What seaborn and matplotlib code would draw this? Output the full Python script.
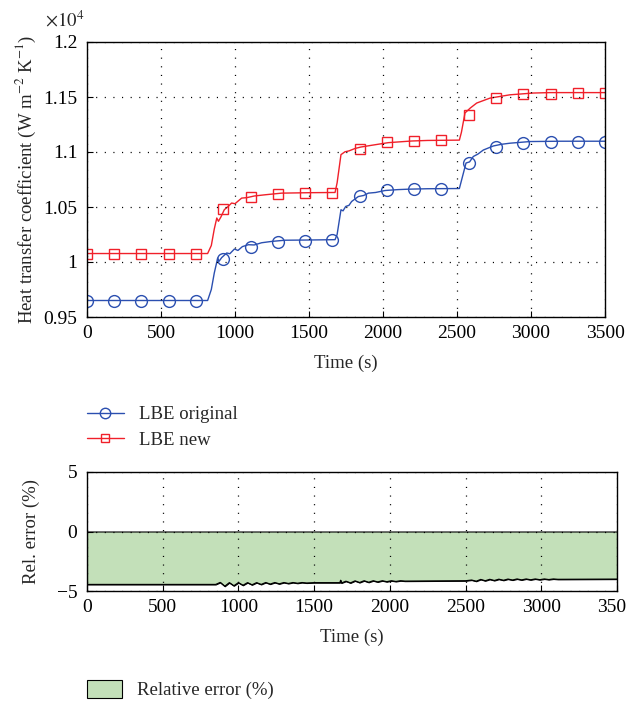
import numpy as np
import pandas as pd
import matplotlib
matplotlib.use("Agg")
import matplotlib.pyplot as plt
import seaborn as sns
from matplotlib.lines import Line2D
from matplotlib.patches import Patch
from matplotlib.ticker import FuncFormatter

# ---------------- data ----------------
# LBE original (blue) line, time (s) and heat transfer coefficient (W m^-2 K^-1)
t_orig = [0, 815, 840, 860, 883, 892, 910, 944, 965, 996, 1020, 1050, 1090, 1130,
          1180, 1247, 1337, 1500, 1676, 1690, 1716, 1730, 1748, 1770, 1788, 1833,
          1870, 1901, 1950, 2014, 2100, 2171, 2300, 2516, 2530, 2561, 2585, 2610,
          2640, 2678, 2746, 2800, 2858, 2993, 3200, 3500]
h_orig = [9650, 9650, 9750, 9900, 10036, 10006, 10040, 10082, 10075, 10118, 10105,
          10140, 10157, 10155, 10175, 10187, 10198, 10200, 10203, 10250, 10475,
          10465, 10505, 10515, 10550, 10595, 10605, 10626, 10632, 10650, 10658,
          10662, 10666, 10668, 10740, 10900, 10910, 10959, 10980, 11018, 11055,
          11070, 11080, 11095, 11098, 11098]

# LBE new (red) line
t_new = [0, 815, 840, 860, 877, 888, 905, 928, 950, 977, 1000, 1045, 1080, 1130,
         1203, 1315, 1500, 1676, 1690, 1716, 1743, 1770, 1811, 1850, 1923, 2036,
         2194, 2300, 2516, 2530, 2554, 2590, 2633, 2723, 2858, 3015, 3128, 3500]
h_new = [10077, 10077, 10150, 10300, 10400, 10370, 10410, 10476, 10500, 10536,
         10530, 10581, 10585, 10600, 10611, 10626, 10630, 10632, 10720, 10976,
         11002, 11010, 11032, 11045, 11061, 11085, 11100, 11105, 11108, 11180,
         11355, 11400, 11445, 11490, 11520, 11536, 11540, 11540]

# marker positions
t_mark = [0, 184, 368, 553, 737, 921, 1105, 1289, 1474, 1658, 1842, 2026, 2211,
          2395, 2579, 2763, 2947, 3132, 3316, 3500]
h_orig_mark = [9650, 9650, 9650, 9650, 9650, 10025, 10139, 10185, 10194, 10200,
               10600, 10655, 10667, 10667, 10897, 11048, 11085, 11090, 11090, 11090]
h_new_mark = [10075, 10075, 10075, 10075, 10075, 10479, 10588, 10618, 10624, 10630,
              11030, 11088, 11103, 11106, 11339, 11490, 11524, 11530, 11532, 11532]

# relative error (%)
t_err = [0, 850, 880, 910, 940, 970, 1000, 1030, 1060, 1090, 1120, 1150, 1180, 1210,
         1240, 1270, 1300, 1330, 1360, 1390, 1420, 1450, 1500, 1670, 1675, 1680,
         1710, 1740, 1770, 1800, 1830, 1860, 1890, 1920, 1950, 1980, 2010, 2040,
         2070, 2100, 2500, 2540, 2570, 2600, 2630, 2660, 2690, 2720, 2750, 2780,
         2810, 2840, 2870, 2900, 2930, 2960, 2990, 3020, 3050, 3080, 3110, 3500]
err = [-4.45, -4.45, -4.28, -4.60, -4.30, -4.56, -4.30, -4.52, -4.30, -4.48, -4.30,
       -4.45, -4.29, -4.42, -4.29, -4.40, -4.29, -4.37, -4.29, -4.35, -4.29, -4.33,
       -4.30, -4.30, -4.10, -4.33, -4.18, -4.32, -4.15, -4.29, -4.14, -4.27, -4.14,
       -4.24, -4.14, -4.22, -4.14, -4.20, -4.14, -4.17, -4.14, -4.08, -4.18, -4.03,
       -4.14, -4.02, -4.12, -4.01, -4.10, -4.00, -4.08, -3.99, -4.07, -3.99, -4.06,
       -3.99, -4.05, -3.99, -4.04, -3.99, -4.02, -4.00]

x_ticks = [0, 500, 1000, 1500, 2000, 2500, 3000, 3500]
y_ticks_top = [9500, 10000, 10500, 11000, 11500, 12000]
y_ticks_bot = [-5, 0, 5]

# ---------------- style ----------------
sns.set_theme(style="white")
plt.rcParams['font.family'] = ['Liberation Serif', 'DejaVu Serif']
plt.rcParams['mathtext.fontset'] = 'stix'
plt.rcParams['axes.unicode_minus'] = True

BLUE = '#2b4fb0'
RED = '#f0202a'
GREEN = '#c3e0b9'
FS = 13.5
TFS = 14

fig = plt.figure(figsize=(6.26, 7.01), dpi=100)
ax1 = fig.add_axes([87/626, 1-317/701, (605-87)/626, (317-42)/701])
ax2 = fig.add_axes([87/626, 1-591/701, (617-87)/626, (591-472)/701])

grid_kw = dict(color='black', linewidth=0.9, linestyle=(0, (0.9, 6.0)))

# ---------------- top plot ----------------
sns.lineplot(x=t_orig, y=h_orig, ax=ax1, color=BLUE, linewidth=1.0, sort=False)
sns.lineplot(x=t_new, y=h_new, ax=ax1, color=RED, linewidth=1.0, sort=False)
sns.lineplot(x=t_mark, y=h_orig_mark, ax=ax1, color=BLUE, linestyle='', marker='o',
             markersize=8.5, markerfacecolor='none', markeredgecolor=BLUE,
             markeredgewidth=1.0, sort=False)
sns.lineplot(x=t_mark, y=h_new_mark, ax=ax1, color=RED, linestyle='', marker='s',
             markersize=7, markerfacecolor='none', markeredgecolor=RED,
             markeredgewidth=1.0, sort=False)

ax1.set_xlim(0, 3500)
ax1.set_ylim(9500, 12000)
ax1.set_xticks(x_ticks)
ax1.set_yticks(y_ticks_top)
ax1.yaxis.set_major_formatter(FuncFormatter(lambda v, p: '%g' % (v / 1e4)))
ax1.grid(True, **grid_kw)
ax1.set_xlabel('Time (s)', fontsize=FS, labelpad=9)
ax1.set_ylabel(r'Heat transfer coefficient (W m$^{-2}$ K$^{-1}$)', fontsize=FS, labelpad=4)
fig.text(45/626, 1-27/701, r'$\times10^4$', fontsize=FS)

# ---------------- bottom plot ----------------
ax2.fill_between(t_err, err, 0, facecolor=GREEN, edgecolor='black', linewidth=0.8)
sns.lineplot(x=t_err, y=err, ax=ax2, color='black', linewidth=0.9, sort=False)
ax2.set_xlim(0, 3500)
ax2.set_ylim(-5, 5)
ax2.set_xticks(x_ticks)
ax2.set_yticks(y_ticks_bot)
ax2.grid(True, **grid_kw)
ax2.set_xlabel('Time (s)', fontsize=FS, labelpad=9)
ax2.set_ylabel('Rel. error (%)', fontsize=FS, labelpad=12)

for ax in (ax1, ax2):
    ax.set_axisbelow(False)
    for s in ax.spines.values():
        s.set_color('black')
        s.set_linewidth(1.0)
        s.set_visible(True)
    ax.tick_params(direction='in', length=4, width=0.8, colors='black',
                   labelsize=TFS, top=False, right=False, bottom=True, left=True)
    ax.tick_params(axis='x', pad=6)
    ax.tick_params(axis='y', pad=7)

# ---------------- legends ----------------
h1 = Line2D([], [], color=BLUE, marker='o', markersize=7.5, markerfacecolor='none',
            markeredgecolor=BLUE, linewidth=1.0)
h2 = Line2D([], [], color=RED, marker='s', markersize=6, markerfacecolor='none',
            markeredgecolor=RED, linewidth=1.0)
fig.legend([h1, h2], ['LBE original', 'LBE new'], loc='upper left',
           bbox_to_anchor=(87/626, 1-406/701), frameon=False, fontsize=FS,
           handlelength=1.95, handletextpad=0.8, labelspacing=0.45, borderpad=0,
           borderaxespad=0)
p = Patch(facecolor=GREEN, edgecolor='black', linewidth=0.8)
fig.legend([p], ['Relative error (%)'], loc='upper left',
           bbox_to_anchor=(87/626, 1-680/701), frameon=False, fontsize=FS,
           handlelength=1.85, handleheight=1.1, handletextpad=0.8, borderpad=0,
           borderaxespad=0)

fig.savefig('out.png', dpi=100)
